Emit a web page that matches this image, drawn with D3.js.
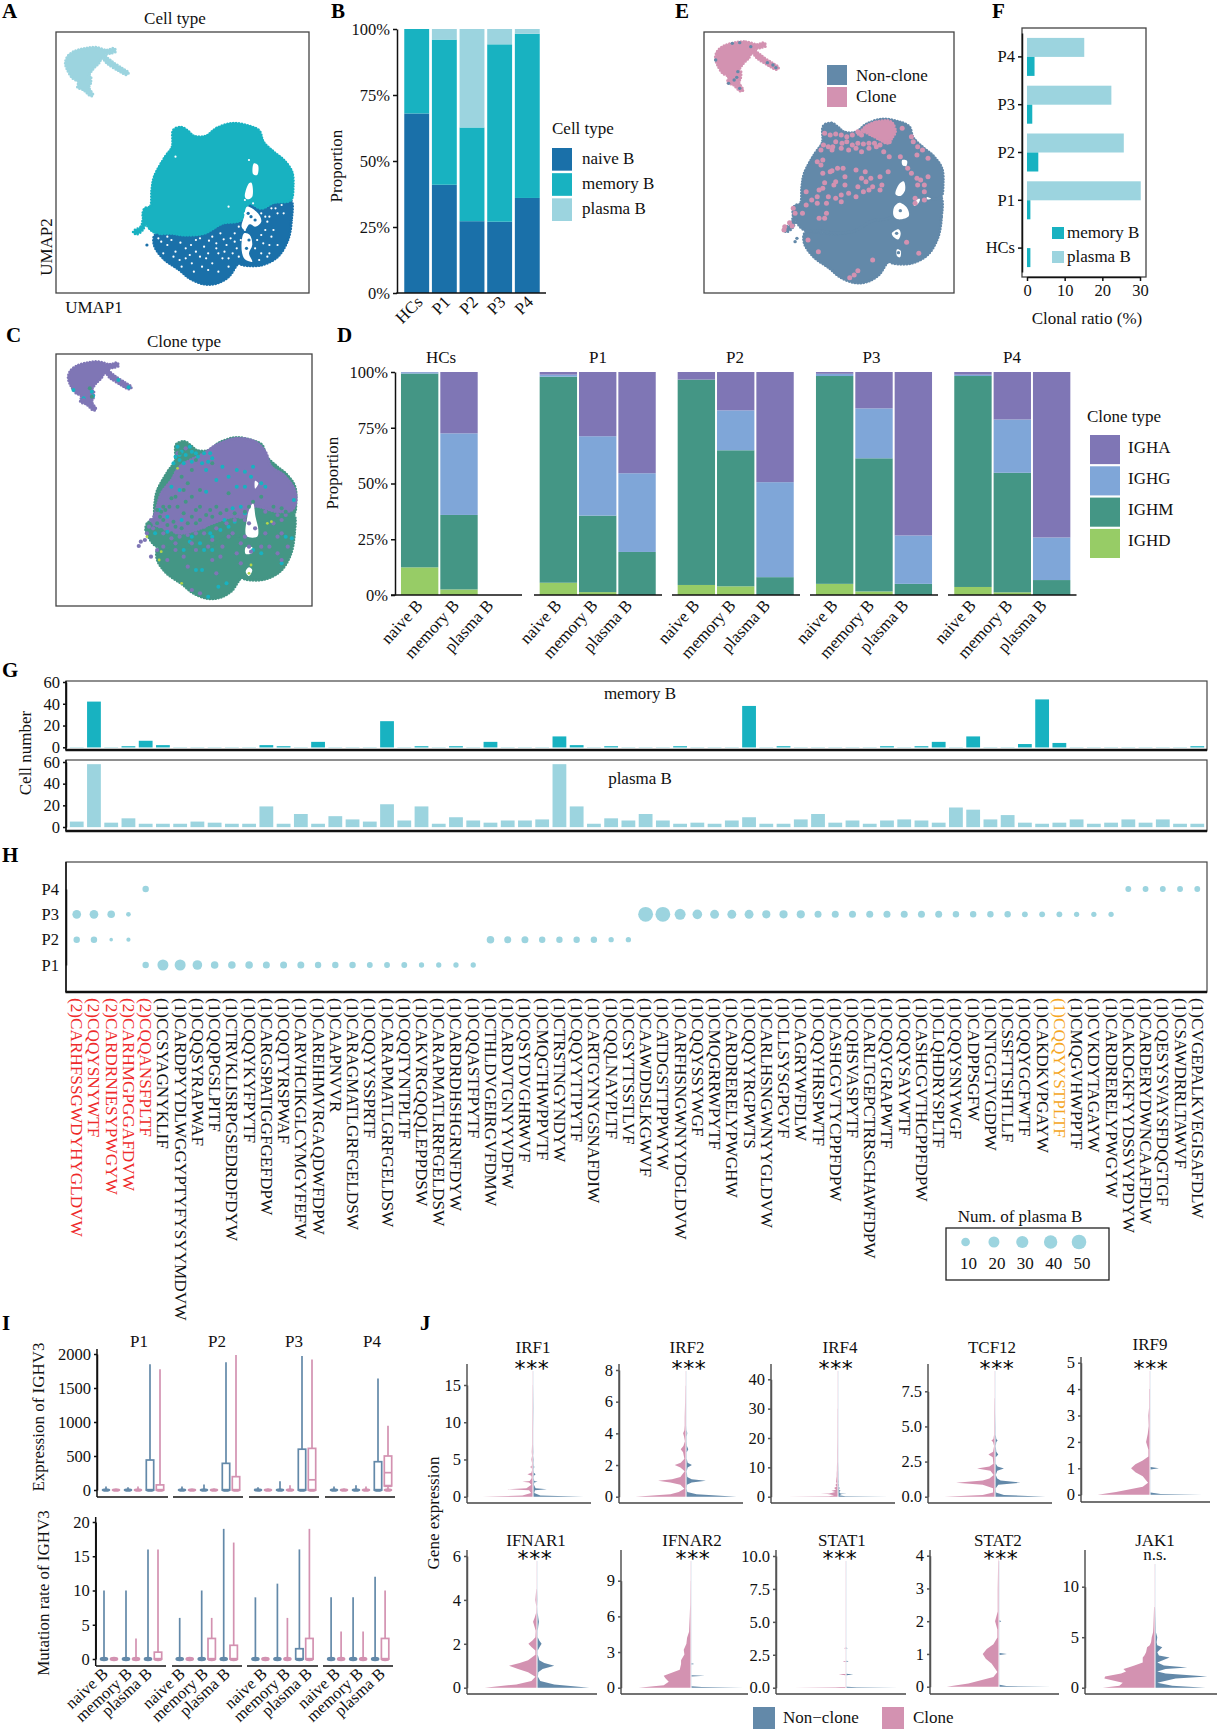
<!DOCTYPE html>
<html><head><meta charset="utf-8">
<script src="https://cdnjs.cloudflare.com/ajax/libs/d3/7.8.5/d3.min.js"></script>
<style>html,body{margin:0;background:#fff}svg{display:block}text{font-family:"Liberation Serif",serif;fill:#111}</style>
</head><body><svg id="c" width="1219" height="1733"></svg>
<script>
// ---------- palette
const cNaive='#1a70a9',cMemory='#18b2c1',cPlasma='#9cd4df';
const cIGHA='#7f76b5',cIGHG='#7fa6d8',cIGHM='#449685',cIGHD='#97cc66';
const cBlue='#6389a9',cPink='#d392b1';

// ---------- B cell type proportion
const bGroups=['HCs','P1','P2','P3','P4'];
const bNaive=[68,41,27.2,27,36];
const bMemory=[32,55,35.5,67.2,62.2];
const bPlasmaB=[0,4,37.3,5.8,1.8];
const cellTypes=['naive B','memory B','plasma B'];

// ---------- D clone type proportion (HCs,P1..P4 x naive,memory,plasma)
const dFacets=['HCs','P1','P2','P3','P4'];
const dIGHD=[12.4,2.5,0, 5.5,1.3,0, 4.5,3.9,0, 5,1.6,0, 3.6,1.2,0];
const dIGHM=[86.9,33.4,0, 92.4,34.3,19.3, 92.1,61,8, 93.2,59.7,5, 94.6,53.6,6.7];
const dIGHG=[.6,36.6,0, .9,35.6,35.3, 0,17.9,42.6, 1,22.4,21.7, .6,23.9,19.1];
const dIGHA=[.1,27.5,0, 1.2,28.8,45.4, 3.4,17.2,49.4, .8,16.3,73.3, 1.2,21.3,74.2];
const cloneTypes=['IGHA','IGHG','IGHM','IGHD'];

// ---------- F clonal ratio
const fGroups=['HCs','P1','P2','P3','P4'];
const fMemory=[.9,.9,3,1.4,2];
const fPlasma=[0,30.2,25.7,22.4,15.2];

// ---------- G/H clonotypes
const clonotypes=['(2)CARHFSSGWDYHYGLDVW','(2)CQQYSNYWTF','(2)CARDRNIESYPWGYW','(2)CARHMGPGGAFDVW','(2)CQQANSFPLTF','(1)CCSYAGNYKLIF','(1)CARDPYYDLWGGYPTYFYSYYMDVW','(1)CQQSYRAPWAF','(1)CQQPGSLPITF','(1)CTRVKLISRPGSEDRDFDYW','(1)CQQYKYFPYTF','(1)CARGSPATIGGFGEFDPW','(1)CQQTYRSPWAF','(1)CARVHCIKGLCYMGYFEFW','(1)CAREIHMVRGAQDWFDPW','(1)CAAPNVVR','(1)CARAGMATLGRFGELDSW','(1)CQQYYSSPRTF','(1)CARAPMATLGRFGELDSW','(1)CQQTYNTPLTF','(1)CAKVRGQQQLEPPDSW','(1)CARAPMATLRRFGELDSW','(1)CARDRDHSHGRNFDYW','(1)CQQASTFPYTF','(1)CTHLDVGEIRGVFDMW','(1)CARDVTGNYYVDFW','(1)CQSYDVGHRWVF','(1)CMQGTHWPPVTF','(1)CTRSTNGYNDYW','(1)CQQYYTTPYTF','(1)CARTGYNYGSNAFDIW','(1)CQQLNAYPLTF','(1)CCSYTTSSTLVF','(1)CAAWDDSLKGWVF','(1)CATDGSTTPPWYW','(1)CARFHSNGWNYYDGLDVW','(1)CQQYSSYWGF','(1)CMQGRRWPYTF','(1)CARDRERELYPWGHW','(1)CQQYYRGPWTS','(1)CARLHSNGWNYYGLDVW','(1)CLLSYSGPGVF','(1)CAGRYWFDLW','(1)CQQYHRSPWTF','(1)CASHCGVTYCPPFDPW','(1)CQHSVASPYTF','(1)CARLTGEPCTRRSCHAWFDPW','(1)CQQYGRAPWTF','(1)CQQYSAYWTF','(1)CASHCGVTHCPPFDPW','(1)CLQHDRYSPLTF','(1)CQQYSNYWGF','(1)CADPPSGFW','(1)CNTGGTVGDPW','(1)CSSFTTSHTLLF','(1)CQQYGCFWTF','(1)CAKDKVPGAYW','(1)CQQYYSTPLTF','(1)CMQGVHWPPTF','(1)CVKDYTAGAYW','(1)CARDRERELYPWGYW','(1)CAKDGKFYYDSSVYPDYW','(1)CARDERYDWNCAAFDLW','(1)CQESYSVAYSFDQGTGF','(1)CSAWDRRLTAWVF','(1)CVGEPALKVEGISAFDLW'];
const gMemory=[0,42,0,1,6,2,0,0,0,0,0,2,1,0,5,0,0,0,24,0,1,0,1,0,5,0,0,0,10,2,0,1,0,0,0,1,0,0,0,38,0,1,0,0,0,0,0,1,0,1,5,0,10,0,0,3,44,4,0,0,0,0,0,0,0,1];
const gPlasma=[5,58,4,8,3,3,3,5,4,3,3,19,3,12,3,10,7,5,21,6,19,3,9,6,4,6,6,7,58,19,3,8,6,12,6,3,4,3,6,9,3,3,7,12,4,6,3,6,7,6,4,18,16,7,11,4,3,4,7,3,4,7,4,7,3,3];
// pairs: clonotype number, count
const hP4=[[5,6],[62,5],[63,5],[64,5],[65,5],[66,5]];
const hP3=[[1,10],[2,10],[3,8],[4,3],[34,52],[35,52],[36,20],[37,14],[38,11],[39,11],[40,11],[41,9],[42,9],[43,9],[44,7],[45,7],[46,7],[47,7],[48,7],[49,7],[50,7],[51,7],[52,6],[53,6],[54,6],[55,6],[56,5],[57,5],[58,5],[59,4],[60,4],[61,4]];
const hP2=[[1,6],[2,6],[3,1],[4,2],[25,8],[26,7],[27,7],[28,6],[29,6],[30,6],[31,6],[32,4],[33,4]];
const hP1=[[5,6],[6,20],[7,20],[8,14],[9,8],[10,8],[11,8],[12,7],[13,7],[14,7],[15,6],[16,6],[17,6],[18,5],[19,5],[20,5],[21,4],[22,4],[23,4],[24,4]];
const hLegend=[10,20,30,40,50];

// ---------- I violins (rows P1..P4, columns naive, memory, plasma)
const iPatients=['P1','P2','P3','P4'];
const exprNonMax=[[50,40,1848],[50,80,1877],[40,130,1970],[50,70,1640]];
const exprCloneMax=[[10,50,1775],[10,20,1985],[20,70,1920],[20,50,946]];
const exprNonQ3=[[0,0,441],[0,0,392],[0,0,600],[0,0,416]];
const exprCloneQ3=[[0,0,75],[0,0,196],[0,0,612],[0,0,500]];
const exprCloneQ1=[[0,0,0],[0,0,0],[0,0,0],[0,0,60]];
const exprCloneMed=[[0,0,0],[0,0,0],[0,0,150],[0,0,255]];
const mutNonMax=[[10,10,16],[6,10,19],[9,11,16],[9,9,12]];
const mutCloneMax=[[0,3,16],[0,6,17],[0,6,19],[4,4,10]];
const mutNonQ3=[[0,0,0],[0,0,0],[0,0,1.5],[0,0,0]];
const mutCloneQ3=[[0,0,1],[0,3,2],[0,0,3],[0,0,3]];

// ---------- J half violins: level, clone density, level, non-clone density
const jGenes=['IRF1','IRF2','IRF4','TCF12','IRF9','IFNAR1','IFNAR2','STAT1','STAT2','JAK1'];
const jSig=['***','***','***','***','***','***','***','***','***','n.s.'];
const lvIRF1=[0,.15,.5,.85,1,1.15,1.6,1.9,2,2.1,2.5,2.8,3,3.2,3.6,3.9,4,4.1,4.5,5,5.5,6,7,9,12,15];
const clIRF1=[150,30,4,10,75,18,3,10,30,8,2,3,15,3,1,2,8,2,1,3,1,2,1,1,.5,.3];
const nnIRF1=[150,20,2,4,40,6,1,2,12,2,.5,1,6,1,.5,1,3,1,.5,1,0,.5,0,0,.5,0];
const lvIRF2=[0,.15,.3,.5,.75,.9,1,1.1,1.25,1.6,1.85,2,2.15,2.4,2.8,3,3.2,3.5,3.8,4,4.2,4.5,5,6,7];
const clIRF2=[150,45,20,3,15,45,82,40,15,2,15,32,14,3,7,14,6,1.5,4,7,3,2,2,1,.5];
const nnIRF2=[150,30,2,.5,1,15,58,15,2,.5,3,16,3,.5,.5,5,1,.5,.5,2,.5,0,0,0,0];
const lvIRF4=[0,.12,.5,.9,1,1.1,1.6,2,2.4,3,3.5,4,4.6,5,6,7,8,9,10,12,15,20,25,30];
const clIRF4=[150,25,10,30,50,25,6,18,4,10,2,6,1.5,4,3,2,2,1.5,1.5,1,1,.6,.5,.4];
const nnIRF4=[150,20,2,10,25,6,1,6,1,3,.5,1.5,.5,1,.5,.5,.5,.3,.3,0,0,0,0,0];
const lvTCF12=[0,.12,.3,.6,.85,1,1.15,1.3,1.55,1.85,2,2.15,2.35,2.8,3,3.2,3.6,3.9,4,4.1,4.4,5,6,7];
const clTCF12=[150,35,4,4,35,115,35,15,2,12,52,15,3,5,18,4,1,4,9,3,1,1,1,.5];
const nnTCF12=[150,25,1,.5,8,75,15,5,.5,5,25,6,.5,.5,8,2,.5,2,6,2,.5,.5,0,0];
const lvIRF9=[0,.1,.3,.45,.7,.85,1,1.15,1.3,1.45,1.7,2,2.3,2.6,3,3.3,4];
const clIRF9=[155,100,20,4,20,42,55,42,20,3,3,10,5,2,3,1,1];
const nvIRF9=[0,.03,.08,.95,1,1.05,2,3];
const nnIRF9=[155,30,0,0,25,0,0,0];
const lvIFNAR1=[0,.15,.3,.5,.7,.85,1,1.12,1.25,1.5,1.7,1.85,2,2.15,2.3,2.6,2.8,3,3.2,3.4,3.7,4,4.5];
const clIFNAR1=[155,60,15,3,25,55,82,50,25,3,3,15,24,12,3,2,6,10,5,1,.5,3,.5];
const nnIFNAR1=[155,50,8,1,2,15,50,20,5,.5,.5,6,12,5,.5,.5,2,4,2,.5,0,.5,0];
const lvIFNAR2=[0,.2,.5,.8,1,1.1,1.5,2,2.3,2.8,3.2,3.7,4.2,4.7,6,7,9];
const clIFNAR2=[155,80,65,75,80,70,32,28,28,18,20,12,10,4,2,.8,.3];
const nvIFNAR2=[0,.05,.12,.95,1,1.05,1.95,2,2.05];
const nnIFNAR2=[155,30,0,0,40,0,0,8,0];
const lvSTAT1=[0,.03,.08,.95,1,1.05,1.95,2,2.05,2.95,3,3.05];
const clSTAT1=[155,30,0,0,20,0,0,8,0,0,4,0];
const nnSTAT1=[155,30,0,0,20,0,0,6,0,0,3,0];
const lvSTAT2=[0,.1,.3,.45,.7,.85,1,1.15,1.3,1.5,1.75,2,2.3,3,4];
const clSTAT2=[155,90,15,3,20,38,47,35,15,3,3,10,2,2,.5];
const nvSTAT2=[0,.02,.06,.97,1,1.03,1.97,2,2.03];
const nnSTAT2=[155,20,0,0,22,0,0,5,0];
const lvJAK1=[0,.2,.5,.9,1.1,1.4,1.6,1.85,2,2.2,2.5,3,3.2,3.5,4,4.2,4.5,5,5.5,6,7,8];
const clJAK1=[155,105,95,150,148,100,85,93,78,60,35,35,30,25,22,14,10,8,4,3,2,1];
const nnJAK1=[150,50,5,60,155,30,5,30,95,25,5,42,10,5,20,5,3,5,1,1,.5,0];

// ---------- UMAP outlines, in UMAP units
const umapPlasma=[[207,145],[235,142],[262,150],[280,145],[283,155],[270,160],[258,165],[275,185],[300,205],[315,218],[310,224],[290,212],[262,190],[250,175],[242,190],[228,207],[218,225],[212,240],[222,228],[222,250],[218,262],[228,285],[222,288],[205,270],[190,262],[192,245],[178,235],[165,210],[160,190],[165,170],[180,155]];
const umapMemory=[[425,390],[445,382],[462,395],[475,408],[505,408],[530,385],[570,370],[610,378],[635,392],[645,425],[670,455],[695,480],[715,515],[718,560],[712,600],[670,608],[640,625],[610,610],[590,660],[545,670],[500,700],[450,705],[420,700],[385,700],[370,690],[358,670],[350,645],[355,625],[368,620],[372,570],[378,530],[405,470],[422,440]];
const umapTail=[[330,690],[345,680],[352,650],[358,660],[350,690],[335,703],[326,697]];
const umapNaive=[[712,600],[714,660],[705,720],[680,770],[640,795],[595,795],[585,790],[560,830],[530,850],[500,852],[465,835],[440,810],[400,775],[378,735],[380,705],[420,705],[450,708],[500,700],[545,670],[590,660],[610,610],[640,625],[670,608]];
const aHoles=[[[622,490],[632,495],[630,525],[620,522]],[[610,550],[616,548],[618,590],[606,598],[600,590]],[[605,620],[632,640],[640,665],[625,680],[612,672],[600,690],[592,680],[598,650]],[[598,700],[612,705],[618,735],[610,760],[618,785],[600,778],[592,750]]];
const aSpeck=[[395,725],[410,735],[430,755],[455,745],[480,720],[500,740],[520,710],[540,700],[555,735],[575,700],[570,760],[545,775],[520,790],[495,800],[470,790],[440,780],[510,760],[490,770],[590,720],[600,690],[650,650],[665,625],[650,690],[640,760],[660,735],[400,760],[560,800],[530,730],[465,765],[580,745],[550,755],[410,710],[660,650],[680,640],[690,615],[670,690],[655,770],[630,720],[430,470],[610,480],[600,600],[560,620],
 [388,715],[420,720],[442,728],[468,735],[490,715],[512,722],[530,745],[548,718],[565,715],[585,680],[575,725],[560,775],[535,760],[505,775],[480,755],[455,775],[425,770],[445,800],[475,815],[510,810],[535,815],[585,770],[640,640],[655,665],[675,625],[695,640],[640,705],[665,710],[680,735],[635,780],[660,760],[625,745],[645,730],[600,640],[620,610],[612,670]];
const aNaiveLoose=[[360,735],[385,705],[615,650],[625,660],[610,720],[604,745],[608,640]];
const cPurplePoly=[[530,375],[580,355],[625,365],[650,395],[665,440],[695,465],[722,510],[725,545],[715,570],[680,575],[620,560],[600,590],[570,590],[520,610],[480,630],[440,640],[390,620],[375,610],[385,560],[395,520],[420,480],[440,440],[500,400]];
const cHoles=[[[612,565],[620,550],[626,590],[633,630],[630,650],[604,648],[606,590]],[[602,682],[618,682],[618,698],[602,702]],[[610,742],[618,750],[610,768],[602,755]],[[625,482],[633,490],[625,506]]];
const cTeal=[[435,380],[445,395],[430,410],[440,420],[455,405],[470,395],[485,410],[500,400],[515,400],[450,430],[425,430],[470,425],[495,430],[510,425],[505,450],[640,490],[650,500],[620,440],[615,470],[600,455],[580,450],[560,470],[545,440],[530,480],[505,515],[580,500],[600,500],[590,560],[570,565],[550,600],[540,630],[560,620],[515,640],[470,650],[450,690],[490,670],[520,690],[480,750],[495,750],[535,800],[510,830],[555,790],[420,500],[440,510],[390,570],[410,590],[445,600],[380,640],[620,690],[690,730],[640,700],[700,650],[715,655],[225,215],[228,228],[290,180],[315,202],[205,235],[180,210],[465,380],[480,400],[520,415],[440,405],[600,580],[575,605],[520,650],[500,690],[465,665],[410,635],[720,540]];
const cPurpleDots=[[560,650],[600,600],[610,610],[625,625],[670,610],[690,600],[600,650],[545,680],[520,660],[500,640],[470,670],[450,710],[430,690],[400,680],[385,690],[370,710],[345,665],[355,660],[340,678],[360,640],[370,600],[580,700],[590,730],[530,760],[490,820],[470,810],[540,710],[640,680],[680,650],[660,680],[680,700],[690,720],[610,680],[615,695],[400,610],[205,240],[215,250],[232,265],[400,640],[420,655],[440,650],[460,645],[480,640],[500,620],[530,625],[555,610],[575,600],[590,590],[650,575],[680,585],[700,585],[430,670],[480,690],[510,680],[570,640],[590,670],[520,720],[460,740],[410,720],[650,640],[690,640],[705,680],[435,400],[455,385],[480,425],[375,625],[365,620]];
const cGreenDots=[[430,530],[420,535],[400,560],[395,575],[405,570],[450,510],[480,570],[490,560],[520,590],[480,610],[530,560],[450,580],[425,605],[610,560],[620,545],[640,530],[520,430],[480,420],[470,450],[560,520],[670,560],[690,565],[700,575],[225,230],[220,205],[440,400],[415,470],[385,570],[392,590],[400,600],[410,615],[430,620],[445,625],[460,610],[470,590],[490,600],[505,585],[515,570],[540,580],[555,570],[575,580],[600,575],[415,560],[435,560],[455,545],[470,530],[490,510],[385,610],[395,630],[420,640],[445,470],[460,490]];
const cLime=[[360,650],[395,695],[390,720],[665,605],[655,610],[615,735],[610,760],[435,445],[445,790]];
const eHoles=[[[710,480],[723,482],[721,498],[711,496]],[[702,552],[714,544],[718,570],[705,588],[692,583]],[[702,608],[722,622],[728,648],[700,658],[687,648],[688,622]],[[700,688],[706,700],[700,718],[686,710],[682,700]],[[696,748],[706,752],[704,772],[696,768]],[[748,600],[758,597],[754,610],[742,618]],[[777,591],[788,596],[777,598]]];
const ePinkPoly=[[610,380],[640,365],[680,365],[692,395],[685,410],[670,430],[650,420],[625,405],[600,395],[590,405]];
const ePink=[[500,400],[515,405],[530,402],[545,405],[560,410],[575,405],[590,395],[600,405],[497,435],[510,440],[522,440],[530,425],[547,430],[560,425],[575,435],[590,430],[605,432],[620,430],[635,430],[650,435],[675,425],[710,385],[735,410],[740,425],[752,440],[765,450],[750,465],[780,475],[490,450],[520,450],[545,445],[565,450],[585,445],[600,455],[620,445],[640,440],[660,455],[675,470],[705,470],[480,485],[495,480],[490,495],[515,515],[520,512],[495,520],[535,505],[550,505],[555,530],[530,545],[585,510],[610,515],[625,535],[600,535],[612,545],[650,530],[672,515],[725,505],[735,520],[500,548],[495,565],[485,570],[525,555],[555,555],[590,560],[605,575],[620,570],[655,555],[630,560],[650,570],[565,580],[585,590],[545,585],[750,535],[760,540],[752,555],[770,555],[780,530],[770,575],[450,575],[465,600],[480,590],[510,590],[530,595],[545,605],[450,615],[415,625],[420,640],[480,610],[505,610],[505,640],[485,655],[500,655],[440,640],[405,668],[392,680],[390,690],[412,678],[455,720],[483,755],[630,780],[590,812],[580,825],[568,833],[722,727],[755,760],[745,610],[745,595],[770,600]];
const eBlueDots=[[250,130],[270,128],[300,140],[345,188],[368,203],[360,195],[265,215],[255,240],[262,232],[240,250],[270,265],[205,180],[425,715],[420,725],[705,632],[695,700],[700,758]];

// ---------- drawing
const svg=d3.select('#c');
function T(x,y,s,o={}){
  const t=svg.append('text').attr('x',x).attr('y',y).text(s)
    .attr('font-size',o.size||17).attr('text-anchor',o.anchor||'start');
  if(o.weight)t.attr('font-weight',o.weight);
  if(o.fill)t.style('fill',o.fill);
  if(o.family)t.style('font-family',o.family);
  if(o.rot!==undefined)t.attr('transform',`rotate(${o.rot},${x},${y})`);
  return t;
}
function styleAxis(g,opt={}){
  g.selectAll('text').attr('font-size',opt.size||16.5).style('fill','#111');
  g.selectAll('line').attr('stroke',opt.color||'#111').attr('stroke-width',opt.w||1.5);
  g.selectAll('path.domain').attr('stroke',opt.color||'#111').attr('stroke-width',opt.w||1.5);
  return g;
}
function hline(x0,x1,y,c='#111',w=1.5){svg.append('line').attr('x1',x0).attr('x2',x1).attr('y1',y).attr('y2',y).attr('stroke',c).attr('stroke-width',w);}
function vline(x,y0,y1,c='#111',w=1.5){svg.append('line').attr('x1',x).attr('x2',x).attr('y1',y0).attr('y2',y1).attr('stroke',c).attr('stroke-width',w);}
function frame(x0,y0,x1,y1,c='#444',w=1.3,fill='none'){svg.append('rect').attr('x',x0).attr('y',y0).attr('width',x1-x0).attr('height',y1-y0).attr('fill',fill).attr('stroke',c).attr('stroke-width',w);}
[['A',2,18],['B',331,18],['C',6,342],['D',337,342],['E',675,18],['F',992,18],['G',2,677],['H',2,862],['I',2,1330],['J',420,1330]]
 .forEach(d=>T(d[1],d[2],d[0],{size:21,weight:'bold',fill:'#000'}));

// polygons helpers
function poly(sx,sy,pts,fill,edge){
  const l=d3.line().x(d=>sx(d[0])).y(d=>sy(d[1])).curve(d3.curveCatmullRomClosed.alpha(.5));
  const p=svg.append('path').attr('d',l(pts)).attr('fill',fill);
  if(edge)p.attr('stroke',fill).attr('stroke-width',edge).attr('stroke-dasharray','0 2.9').attr('stroke-linecap','round');
  return p;
}
function dots(sx,sy,pts,fill,r){svg.append('g').selectAll('circle').data(pts).join('circle').attr('cx',d=>sx(d[0])).attr('cy',d=>sy(d[1])).attr('r',r).attr('fill',fill);}

// Panel A
const xA=d3.scaleLinear([0,1568],[0,640]),yA=d3.scaleLinear([0,990],[0,330]);
frame(56,32,309,293);
T(175,24,'Cell type',{anchor:'middle'});
T(94,313,'UMAP1',{anchor:'middle'});
T(52,247,'UMAP2',{anchor:'middle',rot:-90});
poly(xA,yA,umapPlasma,cPlasma,3);
poly(xA,yA,umapNaive,cNaive,3.2);
poly(xA,yA,umapMemory,cMemory,3.2);
poly(xA,yA,umapTail,cMemory,2.6);
aHoles.forEach(h=>poly(xA,yA,h,'#fff'));
dots(xA,yA,aSpeck,'#fff',1.1);
dots(xA,yA,aNaiveLoose,cNaive,1.6);

// Panel B
const xB=d3.scaleBand(bGroups,[401.5,542.5]).padding(.1),yB=d3.scaleLinear([0,100],[293,29]);
const bKeys=['n','m','p'],bCols={n:cNaive,m:cMemory,p:cPlasma};
d3.stack().keys(bKeys)(bGroups.map((g,i)=>({g,n:bNaive[i],m:bMemory[i],p:bPlasmaB[i]}))).forEach(s=>{
  svg.append('g').selectAll('rect').data(s).join('rect').attr('x',d=>xB(d.data.g)).attr('width',xB.bandwidth())
   .attr('y',d=>yB(d[1])).attr('height',d=>yB(d[0])-yB(d[1])).attr('fill',bCols[s.key]);
});
styleAxis(svg.append('g').attr('transform','translate(397,0)').call(d3.axisLeft(yB).tickValues([0,25,50,75,100]).tickFormat(d=>d+'%').tickSize(4).tickSizeOuter(0)));
hline(396.3,546,293);
bGroups.forEach(g=>T(xB(g)+xB.bandwidth()/2+7,303,g,{anchor:'end',rot:-45}));
T(342,166,'Proportion',{anchor:'middle',rot:-90});
T(552,134,'Cell type');
const bLegY=d3.scaleBand(cellTypes,[148,221]).paddingInner(.1);
cellTypes.forEach((c,i)=>{svg.append('rect').attr('x',552).attr('y',bLegY(c)).attr('width',20).attr('height',bLegY.bandwidth()).attr('fill',[cNaive,cMemory,cPlasma][i]);T(582,bLegY(c)+16,c);});

// Panel C
const xC=d3.scaleLinear([0,1568],[2.86,642.86]),yC=d3.scaleLinear([0,990],[314.33,644.33]);
const xCo=d3.scaleLinear([0,1568],[0,640]),yCo=d3.scaleLinear([0,1020],[320,660]);
frame(56,354,312,606);
T(184,347,'Clone type',{anchor:'middle'});
poly(xC,yC,umapPlasma,cIGHA,3);
poly(xC,yC,umapNaive,cIGHM,3.2);
poly(xC,yC,umapMemory,cIGHM,3.2);
poly(xCo,yCo,cPurplePoly,cIGHA,3.2);
cHoles.forEach(h=>poly(xCo,yCo,h,'#fff'));
dots(xCo,yCo,cTeal,cMemory,2);
dots(xCo,yCo,cPurpleDots,cIGHA,2.1);
dots(xCo,yCo,cGreenDots,cIGHM,2);
dots(xCo,yCo,cLime,'#b5d64a',1.4);

// Panel D
const yD=d3.scaleLinear([0,100],[595,372]);
const dStart=[399,537.7,675.7,814,952.3],dAxis=[[391,522],[534,662],[672,800],[810,938],[948,1076.5]];
const dTitleX=[441,598,735,871.5,1012];
const dCols=[cIGHD,cIGHM,cIGHG,cIGHA],dSeries=[dIGHD,dIGHM,dIGHG,dIGHA];
const dLabOff=[4,1,-4];
dFacets.forEach((f,fi)=>{
  const x=d3.scaleBand(cellTypes,[dStart[fi],dStart[fi]+120]).padding(.05);
  cellTypes.forEach((c,ci)=>{
    let acc=0;
    dSeries.forEach((ser,si)=>{
      const v=ser[fi*3+ci];
      svg.append('rect').attr('x',x(c)).attr('width',x.bandwidth()).attr('y',yD(acc+v)).attr('height',yD(acc)-yD(acc+v)).attr('fill',dCols[si]);
      acc+=v;
    });
    T(x(c)+x.bandwidth()/2+dLabOff[ci],606,c,{anchor:'end',rot:-48});
  });
  hline(dAxis[fi][0],dAxis[fi][1],595);
  T(dTitleX[fi],363,f,{anchor:'middle'});
});
styleAxis(svg.append('g').attr('transform','translate(395,0)').call(d3.axisLeft(yD).tickValues([0,25,50,75,100]).tickFormat(d=>d+'%').tickSize(4).tickSizeOuter(0)));
T(338,473,'Proportion',{anchor:'middle',rot:-90});
T(1087,422,'Clone type');
const dLegY=d3.scaleBand(cloneTypes,[435,558]).paddingInner(.07);
cloneTypes.forEach((c,i)=>{svg.append('rect').attr('x',1090).attr('y',dLegY(c)).attr('width',30).attr('height',dLegY.bandwidth()).attr('fill',[cIGHA,cIGHG,cIGHM,cIGHD][i]);T(1128,dLegY(c)+dLegY.bandwidth()/2+3,c);});

// Panel E
const xE=d3.scaleLinear([0,1568],[650,1290]),yE=d3.scaleLinear([0,990],[-6.5,329.4]);
const xEo=d3.scaleLinear([0,1568],[640,1219]),yEo=d3.scaleLinear([0,990],[0,330]);
frame(704,32,954,293);
poly(xE,yE,umapPlasma,cPink,3);
poly(xE,yE,umapNaive,cBlue,3.2);
poly(xE,yE,umapMemory,cBlue,3.2);
poly(xE,yE,umapTail,cBlue,2.6);
eHoles.forEach(h=>poly(xEo,yEo,h,'#fff'));
poly(xEo,yEo,ePinkPoly,cPink,3);
dots(xEo,yEo,ePink,cPink,2.5);
dots(xEo,yEo,eBlueDots,cBlue,1.7);
[['Non-clone',cBlue,65,81],['Clone',cPink,87,102]].forEach(d=>{svg.append('rect').attr('x',827).attr('y',d[2]).attr('width',20).attr('height',20).attr('fill',d[1]);T(856,d[3],d[0]);});

// Panel F
const xF=d3.scaleLinear([0,30],[1027,1140]),yF=d3.scaleBand(fGroups,[272,33]);
frame(1022,28,1146,277);
fGroups.forEach((g,i)=>{
  const c=yF(g)+yF.bandwidth()/2;
  svg.append('rect').attr('x',xF(0)).attr('y',c-19).attr('width',xF(fPlasma[i])-xF(0)).attr('height',19).attr('fill',cPlasma);
  svg.append('rect').attr('x',xF(0)).attr('y',c).attr('width',xF(fMemory[i])-xF(0)).attr('height',19).attr('fill',cMemory);
});
styleAxis(svg.append('g').attr('transform','translate(1022,0)').call(d3.axisLeft(yF).tickSize(4).tickSizeOuter(0)));
styleAxis(svg.append('g').attr('transform','translate(0,277)').call(d3.axisBottom(xF).tickValues([0,10,20,30]).tickSize(4).tickSizeOuter(0)));
T(1087,324,'Clonal ratio (%)',{anchor:'middle'});
[['memory B',cMemory,227,238],['plasma B',cPlasma,251,262]].forEach(d=>{svg.append('rect').attr('x',1052).attr('y',d[2]).attr('width',12).attr('height',12).attr('fill',d[1]);T(1067,d[3],d[0]);});

// Panel G
const xG=d3.scaleBand(clonotypes,[68.1,1205.9]).paddingInner(.2).paddingOuter(.1);
const xC0=d=>xG(d)+xG.bandwidth()/2;
[[gMemory,cMemory,747.3,682,681,750,699,'memory B'],[gPlasma,cPlasma,827,762,760,831,784,'plasma B']].forEach(r=>{
  const y=d3.scaleLinear([0,60],[r[2],r[3]]);
  frame(66,r[4],1207,r[5],'#444',1.2);
  svg.append('g').selectAll('rect').data(r[0]).join('rect').attr('x',(d,i)=>xG(clonotypes[i])).attr('width',xG.bandwidth())
    .attr('y',d=>y(d)).attr('height',d=>y(0)-y(d)).attr('fill',r[1]);
  svg.append('g').selectAll('line').data(r[0]).join('line').attr('x1',(d,i)=>xG(clonotypes[i])).attr('x2',(d,i)=>xG(clonotypes[i])+xG.bandwidth())
    .attr('y1',y(0)).attr('y2',y(0)).attr('stroke',r[1]).attr('stroke-width',.6).attr('opacity',.4);
  styleAxis(svg.append('g').attr('transform','translate(66,0)').call(d3.axisLeft(y).tickValues([0,20,40,60]).tickSize(3).tickSizeOuter(0)));
  vline(66,r[4],r[5]);
  hline(65.5,1207,r[5],'#111',2.4);
  T(640,r[6],r[7],{anchor:'middle'});
});
T(31,753,'Cell number',{anchor:'middle',rot:-90});

// Panel H
const yH=d3.scalePoint(['P1','P2','P3','P4'],[965,889]);
const rH=d3.scaleLinear([1,10,20,30,40,50,60],[1.8,4.35,5.5,6.1,6.7,7.3,7.9]);
frame(66,862,1207,992,'#444',1.2);
[['P4',hP4],['P3',hP3],['P2',hP2],['P1',hP1]].forEach(r=>{
  svg.append('g').selectAll('circle').data(r[1]).join('circle').attr('cx',d=>xC0(clonotypes[d[0]-1])).attr('cy',yH(r[0])).attr('r',d=>rH(d[1])).attr('fill',cPlasma);
});
styleAxis(svg.append('g').attr('transform','translate(66,0)').call(d3.axisLeft(yH).tickSize(0).tickPadding(7).tickSizeOuter(0)));
vline(66,862,992);
hline(65.5,1207,992,'#111',2.4);
clonotypes.forEach((c,i)=>{
  const col=i<5?'#ee2a2a':(c==='(1)CQQYYSTPLTF'?'#f5a623':'#111');
  T(xC0(c)-5.5,998,c,{size:17.2,rot:90,fill:col});
});
T(1020,1222,'Num. of plasma B',{anchor:'middle'});
frame(946,1228,1109,1280,'#222',1.3);
const hLegX=d3.scalePoint(hLegend,[965.6,1079]);
hLegend.forEach(n=>{
  svg.append('circle').attr('cx',hLegX(n)).attr('cy',1242).attr('r',rH(n)).attr('fill',cPlasma);
  T(hLegX(n)+3,1269,n,{anchor:'middle'});
});

// Panel I
function iRow(yS,startX,step,nonMax,cloMax,nonQ3,cloQ3,cloQ1,cloMed,bumpH){
  iPatients.forEach((p,pi)=>{
    const x=d3.scaleBand(cellTypes,[startX+pi*step,startX+pi*step+66]);
    cellTypes.forEach((c,ci)=>{
      const mid=x(c)+x.bandwidth()/2;
      [[-5,nonMax,nonQ3,null,null,cBlue],[5,cloMax,cloQ3,cloQ1,cloMed,cPink]].forEach(o=>{
        const cx=mid+o[0],max=o[1][pi][ci],q3=o[2][pi][ci],q1=o[3]?o[3][pi][ci]:0,med=o[4]?o[4][pi][ci]:0,col=o[5];
        vline(cx,yS(Math.min(q1,0)),yS(Math.max(max,0)),col,1.7);
        svg.append('ellipse').attr('cx',cx).attr('cy',yS(0)).attr('rx',4.3).attr('ry',bumpH).attr('fill',col);
        if(q3>0){
          svg.append('rect').attr('x',cx-3.7).attr('width',7.4).attr('y',yS(q3)).attr('height',yS(q1)-yS(q3)).attr('fill','#fff').attr('stroke',col).attr('stroke-width',1.7);
          if(med>0)hline(cx-3.7,cx+3.7,yS(med),col,1.7);
          hline(cx-3.7,cx+3.7,yS(q1),col,2.4);
        }
      });
    });
  });
}
const yI1=d3.scaleLinear([0,2000],[1490,1354]),yI2=d3.scaleLinear([0,20],[1659,1522]);
iRow(yI1,100,76,exprNonMax,exprCloneMax,exprNonQ3,exprCloneQ3,exprCloneQ1,exprCloneMed,1.8);
iRow(yI2,98,75.7,mutNonMax,mutCloneMax,mutNonQ3,mutCloneQ3,null,null,2.2);
styleAxis(svg.append('g').attr('transform','translate(97,0)').call(d3.axisLeft(yI1).tickValues([0,500,1000,1500,2000]).tickFormat(d=>String(d)).tickSize(3).tickSizeOuter(0)));
vline(97,1349,1497);
styleAxis(svg.append('g').attr('transform','translate(95.7,0)').call(d3.axisLeft(yI2).tickValues([0,5,10,15,20]).tickSize(3).tickSizeOuter(0)));
vline(95.7,1517,1666);
[[97,168],[173,243],[249,319],[325,395]].forEach(a=>hline(a[0],a[1],1497));
[[96,166],[172,242],[247,318],[323,393]].forEach(a=>hline(a[0],a[1],1666));
[139,217,294,372].forEach((x,i)=>T(x,1347,iPatients[i],{anchor:'middle'}));
[[108,132,152],[185,208,230],[267,290,312],[340,363,385]].forEach(r=>r.forEach((x,i)=>T(x+1,1675,cellTypes[i],{size:16.5,anchor:'end',rot:-43})));
T(44,1417,'Expression of IGHV3',{anchor:'middle',rot:-90});
T(49,1593,'Mutation rate of IGHV3',{anchor:'middle',rot:-90});

// Panel J
const jData=[[lvIRF1,clIRF1,lvIRF1,nnIRF1],[lvIRF2,clIRF2,lvIRF2,nnIRF2],[lvIRF4,clIRF4,lvIRF4,nnIRF4],[lvTCF12,clTCF12,lvTCF12,nnTCF12],[lvIRF9,clIRF9,nvIRF9,nnIRF9],[lvIFNAR1,clIFNAR1,lvIFNAR1,nnIFNAR1],[lvIFNAR2,clIFNAR2,nvIFNAR2,nnIFNAR2],[lvSTAT1,clSTAT1,lvSTAT1,nnSTAT1],[lvSTAT2,clSTAT2,nvSTAT2,nnSTAT2],[lvJAK1,clJAK1,lvJAK1,nnJAK1]];
const jLayout=[
 {x0:467,x1:591,top:1364,bot:1503,y0:1496.7,vT:15,pT:1385,cx:533,tx:533,ty:1353,sx:532,sy:1367,ticks:[0,5,10,15],f:d=>d},
 {x0:619,x1:743,top:1364,bot:1503,y0:1496.7,vT:8,pT:1370,cx:686,tx:687,ty:1353,sx:689,sy:1367,ticks:[0,2,4,6,8],f:d=>d},
 {x0:771,x1:895,top:1364,bot:1503,y0:1496.7,vT:40,pT:1379.3,cx:838,tx:840,ty:1353,sx:836,sy:1367,ticks:[0,10,20,30,40],f:d=>d},
 {x0:928,x1:1052,top:1364,bot:1503,y0:1496.7,vT:7.5,pT:1391.3,cx:995,tx:992,ty:1353,sx:997,sy:1367,ticks:[0,2.5,5,7.5],f:d3.format('.1f')},
 {x0:1081,x1:1210,top:1357,bot:1502,y0:1494.7,vT:5,pT:1362.7,cx:1150,tx:1150,ty:1350,sx:1151,sy:1367,ticks:[0,1,2,3,4,5],f:d=>d},
 {x0:467,x1:597,top:1550,bot:1694,y0:1687.7,vT:6,pT:1556,cx:537,tx:536,ty:1546,sx:535,sy:1557,ticks:[0,2,4,6],f:d=>d},
 {x0:621,x1:748,top:1550,bot:1694,y0:1687.7,vT:9,pT:1580.7,cx:691,tx:692,ty:1546,sx:693,sy:1557,ticks:[0,3,6,9],f:d=>d},
 {x0:776,x1:906,top:1550,bot:1694,y0:1687.7,vT:10,pT:1556,cx:846,tx:842,ty:1546,sx:840,sy:1557,ticks:[0,2.5,5,7.5,10],f:d3.format('.1f')},
 {x0:930,x1:1059,top:1550,bot:1694,y0:1686.7,vT:4,pT:1555.7,cx:999,tx:998,ty:1546,sx:1001,sy:1557,ticks:[0,1,2,3,4],f:d=>d},
 {x0:1085,x1:1217,top:1550,bot:1694,y0:1687.7,vT:10,pT:1586.7,cx:1155,tx:1155,ty:1546,sx:1155,sy:1560,ticks:[0,5,10],f:d=>d}
];
const jW=d3.scaleLinear([0,150],[0,50]);
jGenes.forEach((g,i)=>{
  const L=jLayout[i],D=jData[i];
  const y=d3.scaleLinear([0,L.vT],[L.y0,L.pT]);
  // faint centre strip
  svg.append('rect').attr('x',L.cx-.9).attr('width',.8).attr('y',L.sy+4).attr('height',L.y0-L.sy-4).attr('fill','#f5e6ee');
  svg.append('rect').attr('x',L.cx+.1).attr('width',.8).attr('y',L.sy+4).attr('height',L.y0-L.sy-4).attr('fill','#e6eef5');
  const left=d3.area().y(d=>y(d[0])).x0(L.cx-.6).x1(d=>L.cx-.6-jW(d[1]));
  const right=d3.area().y(d=>y(d[0])).x0(L.cx+.6).x1(d=>L.cx+.6+jW(d[1]));
  svg.append('path').attr('d',left(D[0].map((v,k)=>[v,D[1][k]]))).attr('fill',cPink);
  svg.append('path').attr('d',right(D[2].map((v,k)=>[v,D[3][k]]))).attr('fill',cBlue);
  styleAxis(svg.append('g').attr('transform',`translate(${L.x0},0)`).call(d3.axisLeft(y).tickValues(L.ticks).tickFormat(L.f).tickSize(3).tickSizeOuter(0)),{color:'#555'});
  vline(L.x0,L.top,L.bot,'#555',1.5);
  hline(L.x0,L.x1,L.bot,'#444',1.5);
  T(L.tx,L.ty,g,{anchor:'middle'});
  if(jSig[i]==='***')T(L.sx,L.sy+9,'***',{size:22,anchor:'middle',family:'"DejaVu Sans"',fill:'#000'}).attr('letter-spacing',.6);
  else T(L.sx,L.sy,jSig[i],{anchor:'middle'});
});
T(439,1513,'Gene expression',{anchor:'middle',rot:-90});
[['Non\u2212clone',cBlue,753,783],['Clone',cPink,882,913]].forEach(d=>{svg.append('rect').attr('x',d[2]).attr('y',1707).attr('width',22).attr('height',22).attr('fill',d[1]);T(d[3],1723,d[0]);});
</script></body></html>
